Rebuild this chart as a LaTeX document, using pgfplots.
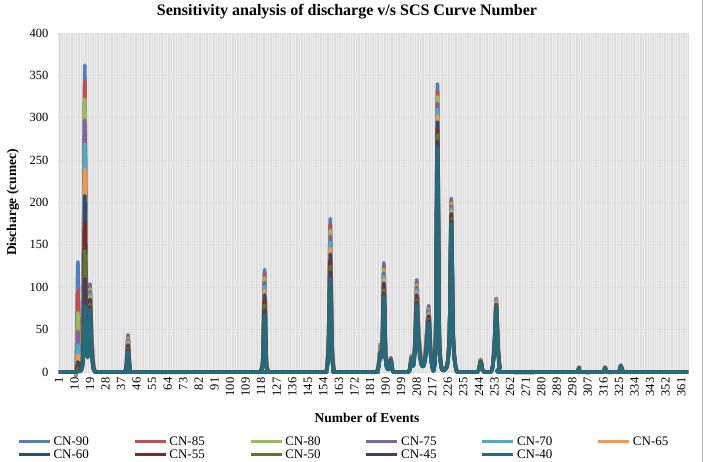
\documentclass[border=0pt]{standalone}
\usepackage{pgfplots}
\pgfplotsset{compat=1.18}
\usepackage{pgfplotstable}
\usepackage{fontspec}
\setmainfont{Liberation Serif}

\definecolor{c90}{HTML}{4F81BD}
\definecolor{c85}{HTML}{C0504D}
\definecolor{c80}{HTML}{9BBB59}
\definecolor{c75}{HTML}{8064A2}
\definecolor{c70}{HTML}{4BACC6}
\definecolor{c65}{HTML}{F79646}
\definecolor{c60}{HTML}{2C4D75}
\definecolor{c55}{HTML}{772C2A}
\definecolor{c50}{HTML}{5F7530}
\definecolor{c45}{HTML}{4D3B62}
\definecolor{c40}{HTML}{276A7C}

\pgfplotstableread{
x   a   b   c   d   e   f   g   h   i   j   k
1   0   0   0   0   0   0   0   0   0   0   0
10  0   0   0   0   0   0   0   0   0   0   0
11  3   2   1   1   0   0   0   0   0   0   0
12  130 96  70  48  32  20  12  7   4   2   1
13  25  18  13  9   6   4   3   2   1   1   0
14  10  9   8   7   6   5   4   4   3   3   2
15  70  64  58  52  46  40  34  28  22  17  12
16  362 343 322 297 269 239 208 176 143 110 78
17  70  65  60  55  50  45  40  36  32  28  24
18  45  42  39  36  33  30  28  26  24  22  20
19  104 101 98  95  92  89  86  83  80  77  74
20  45  42  39  36  33  31  29  27  25  23  21
21  10  9   8   7   7   6   5   5   4   4   3
22  1   1   1   1   1   1   1   0   0   0   0
23  0   0   0   0   0   0   0   0   0   0   0
38  0   0   0   0   0   0   0   0   0   0   0
39  0   0   0   0   0   0   0   0   0   0   0
40  8   7   7   6   6   5   5   5   4   4   4
41  44  42  40  38  36  34  32  30  28  26  24
42  6   6   5   5   5   4   4   4   3   3   3
43  0   0   0   0   0   0   0   0   0   0   0
116 0   0   0   0   0   0   0   0   0   0   0
117 0   0   0   0   0   0   0   0   0   0   0
118 3   3   3   2   2   2   2   2   1   1   1
119 20  19  18  17  16  15  14  13  12  11  10
120 121 116 111 106 101 96  91  85  79  73  67
121 18  17  16  15  14  13  12  11  10  9   8
122 2   2   2   2   2   1   1   1   1   1   1
123 0   0   0   0   0   0   0   0   0   0   0
154 0   0   0   0   0   0   0   0   0   0   0
155 0   0   0   0   0   0   0   0   0   0   0
156 5   5   4   4   4   3   3   3   3   2   2
157 45  43  41  39  37  35  33  31  29  27  25
158 181 174 167 160 153 146 139 132 125 118 110
159 40  38  36  34  32  30  28  26  24  22  20
160 5   5   4   4   4   3   3   3   3   2   2
161 0   0   0   0   0   0   0   0   0   0   0
184 0   0   0   0   0   0   0   0   0   0   0
185 0   0   0   0   0   0   0   0   0   0   0
186 12  11  10  9   9   8   8   7   7   6   6
187 33  31  29  28  26  25  24  23  22  21  20
188 30  29  28  27  26  25  24  23  22  21  20
189 129 125 121 117 113 109 105 101 97  93  89
190 25  24  23  22  21  20  19  18  17  16  15
191 6   6   6   5   5   5   5   4   4   4   4
192 6   6   6   5   5   5   5   4   4   4   4
193 17  17  16  16  15  15  15  14  14  14  13
194 3   3   3   3   3   2   2   2   2   2   2
195 0   0   0   0   0   0   0   0   0   0   0
202 0   0   0   0   0   0   0   0   0   0   0
203 0   0   0   0   0   0   0   0   0   0   0
204 4   4   4   3   3   3   3   3   3   2   2
205 20  19  19  18  18  17  17  16  16  15  15
206 10  10  9   9   9   8   8   8   7   7   7
207 40  38  37  35  34  32  31  29  28  26  25
208 109 106 103 100 97  94  91  88  85  82  79
209 55  53  51  49  47  45  43  41  39  37  35
210 25  24  23  22  21  20  19  18  17  16  15
211 10  10  9   9   9   8   8   8   7   7   7
212 10  10  9   9   9   8   8   8   7   7   7
213 25  24  23  22  21  20  19  18  17  16  15
214 55  53  51  49  47  45  43  41  39  37  35
215 78  76  74  72  70  68  66  64  62  60  58
216 30  29  28  27  26  25  24  23  22  21  20
217 8   8   8   7   7   7   6   6   6   5   5
218 5   5   5   5   4   4   4   4   4   3   3
219 60  58  56  54  52  50  48  46  44  42  40
220 340 332 325 317 310 302 295 287 280 272 265
221 60  58  56  54  52  50  48  46  44  42  40
222 12  12  11  11  10  10  10  9   9   8   8
223 3   3   3   3   3   2   2   2   2   2   2
224 2   2   2   2   2   2   2   2   2   2   2
225 5   5   5   5   5   4   4   4   4   4   4
226 15  15  14  14  14  13  13  13  12  12  12
227 55  54  53  52  51  50  49  48  47  46  45
228 205 202 199 196 193 190 187 184 181 178 175
229 55  54  53  52  51  50  49  48  47  46  45
230 15  15  14  14  14  13  13  13  12  12  12
231 3   3   3   3   3   2   2   2   2   2   2
232 0   0   0   0   0   0   0   0   0   0   0
242 0   0   0   0   0   0   0   0   0   0   0
243 0   0   0   0   0   0   0   0   0   0   0
244 3   3   3   3   3   3   3   3   3   3   3
245 15  15  15  14  14  14  13  13  13  12  12
246 3   3   3   3   3   3   3   3   3   3   3
247 0   0   0   0   0   0   0   0   0   0   0
250 0   0   0   0   0   0   0   0   0   0   0
251 0   0   0   0   0   0   0   0   0   0   0
252 8   8   8   8   8   7   7   7   7   7   7
253 40  39  38  37  36  35  34  33  32  31  30
254 87  86  85  84  83  82  80  79  78  76  75
255 35  34  33  32  31  30  29  28  27  26  25
256 6   6   6   6   6   5   5   5   5   5   5
257 0   0   0   0   0   0   0   0   0   0   0
300 0   0   0   0   0   0   0   0   0   0   0
301 0   0   0   0   0   0   0   0   0   0   0
302 6   6   6   6   6   6   5   5   5   5   5
303 0   0   0   0   0   0   0   0   0   0   0
315 0   0   0   0   0   0   0   0   0   0   0
316 0   0   0   0   0   0   0   0   0   0   0
317 6   6   6   6   6   6   5   5   5   5   5
318 0   0   0   0   0   0   0   0   0   0   0
324 0   0   0   0   0   0   0   0   0   0   0
325 0   0   0   0   0   0   0   0   0   0   0
326 8   8   8   8   8   7   7   7   7   7   7
327 2   2   2   2   2   2   2   2   2   2   2
328 0   0   0   0   0   0   0   0   0   0   0
365 0   0   0   0   0   0   0   0   0   0   0
}\data

\begin{document}
\begin{tikzpicture}[x=1pt,y=1pt]
\useasboundingbox (-58,-90) rectangle (647,372);
\begin{axis}[
  at={(0,0)}, anchor=south west,
  scale only axis, width=631pt, height=339pt,
  xmin=0.5, xmax=365.5, ymin=0, ymax=400,
  xtick={1,10,...,361},
  minor xtick={1,...,365},
  ytick={0,50,...,400},
  axis background/.style={fill=gray!13},
  xmajorgrids, xminorgrids, ymajorgrids,
  major grid style={gray!26, line width=0.4pt},
  minor grid style={gray!26, line width=0.4pt},
  y grid style={gray!26, line width=0.8pt},
  axis line style={draw=none},
  major tick length=0pt, minor tick length=0pt,
  tick label style={font=\fontsize{12.5}{13}\selectfont},
  x tick label style={rotate=90, anchor=east, xshift=-2pt},
  y tick label style={xshift=-6pt},
  /pgf/number format/assume math mode=true,
  clip=false,
  every axis plot/.append style={line width=3.5pt, smooth, tension=0.45, line join=round},
  legend columns=6,
  legend image code/.code={\draw[#1, line width=3.5pt] (0pt,0pt) -- (31pt,0pt);},
  legend style={draw=none, fill=none, at={(-0.07,-0.182)}, anchor=north west,
    font=\fontsize{13}{14}\selectfont, row sep=2pt,
    /tikz/every even column/.append style={column sep=42pt},
    nodes={inner xsep=2pt, inner ysep=0.5pt}},
  legend cell align=left,
]
\addplot[c90] table[x=x,y=a]{\data}; \addlegendentry{CN-90}
\addplot[c85] table[x=x,y=b]{\data}; \addlegendentry{CN-85}
\addplot[c80] table[x=x,y=c]{\data}; \addlegendentry{CN-80}
\addplot[c75] table[x=x,y=d]{\data}; \addlegendentry{CN-75}
\addplot[c70] table[x=x,y=e]{\data}; \addlegendentry{CN-70}
\addplot[c65] table[x=x,y=f]{\data}; \addlegendentry{CN-65}
\addplot[c60] table[x=x,y=g]{\data}; \addlegendentry{CN-60}
\addplot[c55] table[x=x,y=h]{\data}; \addlegendentry{CN-55}
\addplot[c50] table[x=x,y=i]{\data}; \addlegendentry{CN-50}
\addplot[c45] table[x=x,y=j]{\data}; \addlegendentry{CN-45}
\addplot[c40] table[x=x,y=k]{\data}; \addlegendentry{CN-40}
\end{axis}
\node[font=\bfseries\fontsize{16}{18}\selectfont] at (289,360) {Sensitivity analysis of discharge v/s SCS Curve Number};
\node[font=\bfseries\fontsize{13.5}{15}\selectfont, rotate=90] at (-45,169.5) {Discharge (cumec)};
\node[font=\bfseries\fontsize{13.5}{15}\selectfont] at (309,-46) {Number of Events};
\draw[gray!60, line width=0.8pt] (644,-90) -- (644,372);
\end{tikzpicture}
\end{document}
